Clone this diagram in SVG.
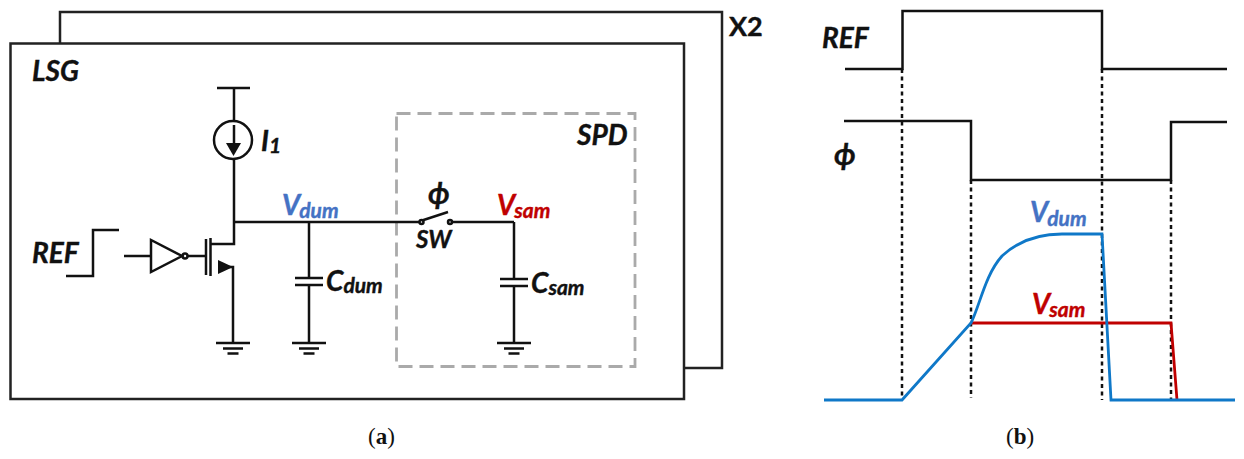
<svg xmlns="http://www.w3.org/2000/svg" width="1244" height="459" viewBox="0 0 1244 459">
<defs>
<style>
.w{fill:none;stroke:#111;stroke-width:2.5}
.box{fill:none;stroke:#222;stroke-width:2.5}
.t{font-family:"Lato","Open Sans",sans-serif;font-weight:700;font-style:italic;fill:#111;font-size:28px;stroke:#111;stroke-width:.4}
.sub{font-size:21px}
.c{font-family:"Liberation Serif",serif;font-size:23px;fill:#111}
.dot{fill:none;stroke:#111;stroke-width:2.500;stroke-dasharray:4 3.500}
.bl{fill:none;stroke:#0f78c8;stroke-width:2.800}
.rd{fill:none;stroke:#c00000;stroke-width:2.800}
.vb{fill:#4472c4;stroke:#4472c4}
.vr{fill:#c00000;stroke:#c00000}
</style>
<g id="gnd"><path class="w" d="M-17 0H17M-10 5.500H10M-5.500 10.500H5.500"/></g>
<g id="cap"><path class="w" d="M-14 0H14M-14 7H14"/></g>
</defs>
<g id="back-stage"><path class="box" d="M60 43V12H722V368H684"/></g>
<g id="lsg"><rect class="box" x="10.500" y="43.500" width="673.500" height="355.500"/><text class="t" x="32" y="81">LSG</text></g>
<text x="729" y="36" style="font-family:Lato,sans-serif;font-weight:700;font-size:27px;fill:#111;stroke:#111;stroke-width:.4">X2</text>
<g id="spd"><rect x="396.500" y="113.500" width="238.500" height="253" fill="none" stroke="#aaa" stroke-width="2.800" stroke-dasharray="14 7"/><text class="t" x="577" y="145">SPD</text></g>
<g id="connectors">
<path class="w" d="M217 88H250M234 88V121M234 159V222M234 222H420M452 222H514M309 222V278M309 286V343M514 222V279M514 285V343"/>
<path class="w" d="M66 276H93V230H119M124 256H151M188 256H206M210 244H234V222M218 267H233V343"/>
<path class="w" d="M206 239V275M210.500 238V276"/>
</g>
<g id="i1"><circle class="w" cx="233" cy="140" r="19"/><path class="w" d="M234 125V145"/><path d="M226 143H241L233.500 156Z" fill="#111"/><text class="t" x="261" y="151">I<tspan class="sub" dy="2">1</tspan></text></g>
<g id="inverter"><path class="w" d="M151 240V272L182 256Z"/><circle class="w" cx="185" cy="256" r="2.500" stroke-width="2"/></g>
<g id="mos"><path d="M218 260L233 267L218 274Z" fill="#111"/></g>
<g id="ref-in"><text class="t" x="32" y="263">REF</text></g>
<g id="cdum"><use href="#cap" x="309" y="278"/><use href="#gnd" x="309" y="343"/><text class="t" x="326" y="291">C<tspan class="sub" dy="2">dum</tspan></text></g>
<g id="gnd1"><use href="#gnd" x="233" y="343"/></g>
<g id="vdum"><text class="t vb" x="282" y="215">V<tspan class="sub" dy="3" dx="-1">dum</tspan></text></g>
<g id="sw"><circle class="w" cx="421.500" cy="222" r="2" stroke-width="2"/><circle class="w" cx="450" cy="222" r="2" stroke-width="2"/><path class="w" d="M422 220.500L448 212"/><text class="t" x="428" y="204" style="font-size:30px">ϕ</text><text class="t" x="416" y="248" style="font-size:24px">SW</text></g>
<g id="vsam"><text class="t vr" x="497" y="215">V<tspan class="sub" dy="3" dx="-1">sam</tspan></text></g>
<g id="csam"><use href="#cap" x="514" y="279"/><use href="#gnd" x="514" y="343"/><text class="t" x="531" y="293">C<tspan class="sub" dy="2">sam</tspan></text></g>
<text class="c" x="368" y="444">(<tspan font-weight="700">a</tspan>)</text>
<g id="timing">
<path class="dot" d="M902 69V400M971 180V398M1102 69V400M1171 180V400"/>
<path class="w" d="M845 69H902.500V11H1102V69H1227M844 121H971V180H1171V122H1227"/>
<text class="t" x="822" y="48">REF</text>
<text class="t" x="834" y="165" style="font-size:30px">ϕ</text>
<path class="rd" d="M971 323H1171L1177 400"/>
<path class="bl" d="M824 400H902L971 323C980 305 985 275 1002 256C1018 241 1040 234 1062 234H1102L1111 400H1235"/>
<text class="t vb" x="1030" y="222">V<tspan class="sub" dy="4" dx="-1">dum</tspan></text>
<text class="t vr" x="1032" y="314">V<tspan class="sub" dy="3" dx="-1">sam</tspan></text>
</g>
<text class="c" x="1006" y="444">(<tspan font-weight="700">b</tspan>)</text>
</svg>
